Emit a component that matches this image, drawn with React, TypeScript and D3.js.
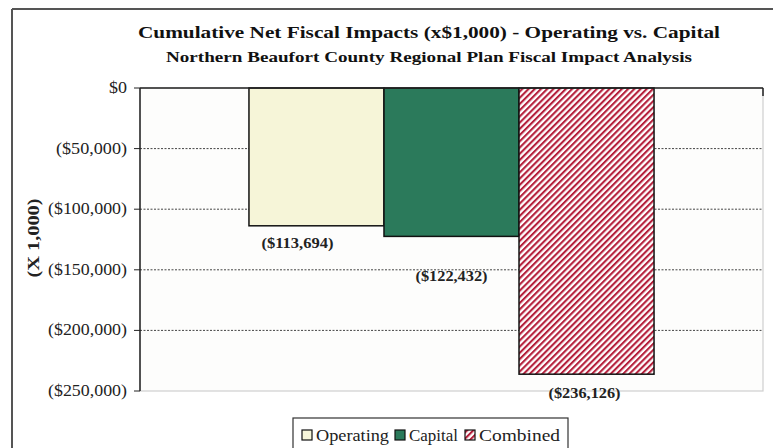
import React from "react";
import * as d3 from "d3";

const categories = ["Operating", "Capital", "Combined"];
const values = [-113694, -122432, -236126];
const valueLabels = ["($113,694)", "($122,432)", "($236,126)"];
const yTicks = [0, -50000, -100000, -150000, -200000, -250000];
const yTickLabels = ["$0", "($50,000)", "($100,000)", "($150,000)", "($200,000)", "($250,000)"];

const fills = ["#f6f5d8", "#2b7a5b", "url(#hatch)"];
const labelDx = [-19, 0, -2];
const labelDy = [17, 40, 19];

const W = 773;
const H = 448;
const M = { left: 140, right: 763, top: 88, bottom: 391 };
const serif = "'Liberation Serif', 'Times New Roman', serif";

export default function App() {
  const x = d3
    .scaleBand<string>()
    .domain(categories)
    .range([M.left, M.right])
    .paddingInner(0)
    .paddingOuter(0.807);
  const y = d3.scaleLinear().domain([-250000, 0]).range([M.bottom, M.top]);

  return (
    <svg
      width={W}
      height={H}
      style={{ position: "absolute", left: 0, top: 0, background: "#fff" }}
      fontFamily={serif}
    >
      <defs>
        <pattern
          id="hatch"
          width={4.4}
          height={4.4}
          patternUnits="userSpaceOnUse"
          patternTransform="rotate(45)"
        >
          <rect width={4.4} height={4.4} fill="#fff" />
          <rect width={2.1} height={4.4} fill="#b5203c" />
        </pattern>
      </defs>

      {/* outer frame */}
      <line x1={12} y1={9} x2={W} y2={9} stroke="#555" strokeWidth={2} />
      <line x1={12} y1={9} x2={12} y2={H} stroke="#555" strokeWidth={2} />

      {/* titles */}
      <text
        x={429}
        y={38}
        textAnchor="middle"
        fontSize={17}
        fontWeight="bold"
        fill="#111"
        textLength={582}
        lengthAdjust="spacingAndGlyphs"
      >
        Cumulative Net Fiscal Impacts (x$1,000) - Operating vs. Capital
      </text>
      <text
        x={429}
        y={62}
        textAnchor="middle"
        fontSize={15}
        fontWeight="bold"
        fill="#111"
        textLength={526}
        lengthAdjust="spacingAndGlyphs"
      >
        Northern Beaufort County Regional Plan Fiscal Impact Analysis
      </text>

      {/* plot area */}
      <rect
        x={M.left}
        y={M.top}
        width={M.right - M.left}
        height={M.bottom - M.top}
        fill="#fdfdfc"
        stroke="#cfcfcf"
        strokeWidth={1.2}
      />

      {/* gridlines */}
      {yTicks.slice(1, 5).map((t) => (
        <line
          key={"g" + t}
          x1={M.left}
          x2={M.right}
          y1={y(t)}
          y2={y(t)}
          stroke="#444"
          strokeWidth={1}
          strokeDasharray="2,1.5"
        />
      ))}

      {/* ticks & labels */}
      {yTicks.map((t, i) => (
        <g key={"t" + t}>
          <line x1={M.left - 6} x2={M.left} y1={y(t)} y2={y(t)} stroke="#222" strokeWidth={1} />
          <text
            x={127}
            y={y(t) + 5}
            textAnchor="end"
            fontSize={16}
            fill="#222"
            textLength={i === 0 ? 18 : i === 1 ? 71 : 79}
            lengthAdjust="spacingAndGlyphs"
          >
            {yTickLabels[i]}
          </text>
        </g>
      ))}

      {/* axis title */}
      <text
        transform={`translate(39,238) rotate(-90)`}
        textAnchor="middle"
        fontSize={16}
        fontWeight="bold"
        fill="#222"
        textLength={79}
        lengthAdjust="spacingAndGlyphs"
      >
        (X 1,000)
      </text>

      {/* bars */}
      {categories.map((c, i) => (
        <rect
          key={c}
          x={x(c)}
          y={y(0)}
          width={x.bandwidth()}
          height={y(values[i]) - y(0)}
          fill={fills[i]}
          stroke="#111"
          strokeWidth={1.5}
        />
      ))}

      {/* axes lines */}
      <line x1={M.left} x2={M.left} y1={M.top} y2={M.bottom} stroke="#222" strokeWidth={1.5} />
      <line x1={M.left} x2={M.right} y1={y(0)} y2={y(0)} stroke="#222" strokeWidth={1.5} />
      <line x1={M.right} x2={M.right} y1={M.top} y2={M.top + 8} stroke="#222" strokeWidth={1.5} />

      {/* value labels */}
      {categories.map((c, i) => (
        <text
          key={"l" + c}
          x={(x(c) as number) + x.bandwidth() / 2 + labelDx[i]}
          y={y(values[i]) + labelDy[i] + 5}
          textAnchor="middle"
          fontSize={14}
          fontWeight="bold"
          fill="#222"
          textLength={72}
          lengthAdjust="spacingAndGlyphs"
        >
          {valueLabels[i]}
        </text>
      ))}

      {/* legend */}
      <rect x={293} y={418} width={275} height={40} fill="#fff" stroke="#333" strokeWidth={1.2} />
      {categories.map((c, i) => {
        const lx = [302, 395, 465][i];
        const tl = [73, 49, 81][i];
        return (
          <g key={"lg" + c}>
            <rect x={lx} y={430} width={10} height={10} fill={fills[i]} stroke="#111" strokeWidth={1.2} />
            <text
              x={lx + 14}
              y={441}
              fontSize={17}
              fill="#222"
              textLength={tl}
              lengthAdjust="spacingAndGlyphs"
            >
              {c}
            </text>
          </g>
        );
      })}
    </svg>
  );
}
